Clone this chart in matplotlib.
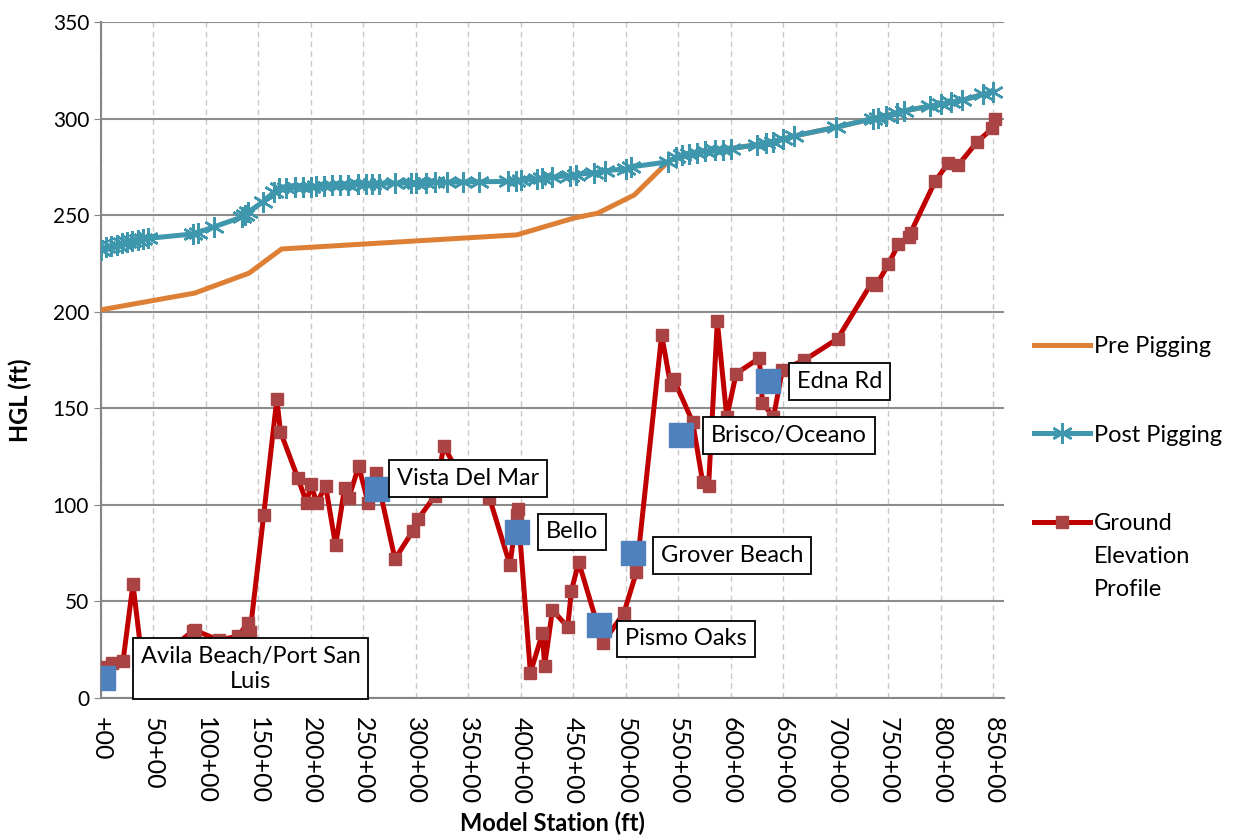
import numpy as np
import matplotlib
matplotlib.use("Agg")
import matplotlib.pyplot as plt

plt.rcParams["font.family"] = ["Lato", "DejaVu Sans"]

# ── Data ──
post_x = [0, 5, 10, 15, 20, 25, 30, 35, 40, 45, 88, 92, 108, 134, 137, 140, 154, 165,
          170, 176, 185, 192, 200, 205, 212, 220, 228, 235, 245, 252, 258, 265, 280,
          295, 300, 310, 318, 330, 345, 360, 388, 395, 400, 415, 420, 430, 447, 452,
          470, 480, 500, 505, 540, 548, 553, 560, 568, 575, 585, 592, 600, 625, 633,
          640, 650, 660, 700, 735, 740, 748, 758, 765, 790, 800, 810, 820, 840, 850]
post_y = [232, 233.5, 234, 234.5, 235.5, 236, 236.5, 237, 237.5, 238, 240.3, 241, 244,
          249, 250, 251.5, 256.8, 262, 264, 264.3, 264.5, 264.6, 264.8, 265, 265.2,
          265.4, 265.6, 265.8, 266, 266.2, 266.3, 266.4, 266.6, 266.7, 266.8, 266.9,
          267, 267.1, 267.2, 267.3, 267.5, 267.7, 268, 268.8, 269.2, 269.8, 270.5, 271,
          272, 273, 274, 275, 277.6, 280, 281, 281.5, 282.3, 283, 283.5, 284, 284.5,
          286.5, 287.5, 288, 289.5, 291, 295.5, 300, 300.5, 301.5, 303, 304, 306.5,
          307.5, 308.5, 309.5, 312.5, 314]

# pre pigging runs below post pigging, then joins it from ~540 on
pre_x = [0, 89.5, 141, 172, 396, 451, 473, 508, 540] + post_x[53:]
pre_y = [201, 209.7, 220, 232.5, 239.8, 248.6, 251, 260.5, 277.6] + post_y[53:]

ground_x = [0, 10.5, 21, 30.5, 38, 55, 72, 87.5, 90, 112, 130.5, 140, 142, 155, 167.5,
            171, 187.5, 196, 200, 205.5, 214, 223.5, 232, 236, 245.5, 254.5, 262, 280,
            297, 302, 318, 326.5, 345, 360, 370, 389.5, 396, 397, 409, 420.5, 422.5,
            430, 444.5, 448, 455, 478, 498, 510, 534, 542.5, 545.5, 563.5, 573, 578.7,
            587, 596, 605, 627, 630, 640.5, 649, 670, 701.5, 734, 738.5, 750, 759.5,
            770, 771, 794.5, 807, 816.5, 834.5, 849, 851]
ground_y = [16, 18, 19, 59, 25, 20, 28, 34.7, 35, 30, 32, 38.8, 34, 94.8, 154.8, 137.8,
            113.9, 101, 110.8, 101, 109.8, 79, 108.7, 103.6, 120, 101, 116.5, 72, 86.5,
            92.7, 104.6, 130.5, 112, 110, 103.6, 69, 94.8, 97.9, 13, 33.7, 16.6, 45.6,
            36.8, 55.4, 70.4, 28.5, 44, 65.3, 188, 162, 165, 143, 112, 110, 195, 145.5,
            168, 176, 152.8, 145.5, 170, 175, 186, 215, 213.9, 224.7, 235, 238.7, 240.8,
            267.7, 277, 276, 288, 295, 300]

loc_names = ["Avila Beach/Port San\nLuis", "Vista Del Mar", "Bello", "Pismo Oaks",
             "Grover Beach", "Brisco/Oceano", "Edna Rd"]
loc_x = [2, 263, 396, 474, 507, 552, 635]
loc_y = [10.4, 108, 86, 37.8, 75, 136, 164]
loc_offsets = [(27, 6.5), (14, 8), (21, 0), (19, -10), (20, -1.5), (22, 0), (21, 0)]

ticks = np.arange(0, 851, 50)
tick_labels = ["+00"] + [f"{t}+00" for t in ticks[1:]]

# ── Plot ──
fig = plt.figure(figsize=(12.34, 8.38), dpi=100)
ax = fig.add_axes([0.0818, 0.167, 0.7318, 0.8067])

ax.plot(pre_x, pre_y, color="#DD8035", lw=3.6, label="Pre Pigging", zorder=3)
ax.plot(post_x, post_y, color="#3F97AE", lw=3.6, marker=(6, 2, 0), ms=15, mew=1.8,
        label="Post Pigging", zorder=4)
ax.plot(ground_x, ground_y, color="#C00000", lw=3.6, marker="s", ms=8,
        mfc="#AA4444", mec="#AA4444", label="Ground", zorder=4)
ax.scatter(loc_x, loc_y, marker="s", s=310, color="#4F81BD", zorder=5)

for name, x, y, off in zip(loc_names, loc_x, loc_y, loc_offsets):
    ax.annotate(name, (x, y), xytext=off, textcoords="offset points", ha="left",
                va="center", fontsize=17, multialignment="center", zorder=6,
                bbox=dict(boxstyle="square,pad=0.33", fc="white", ec="black", lw=1.3))

ax.set_xlim(0, 860)
ax.set_ylim(0, 350)
ax.set_yticks(np.arange(0, 351, 50))
ax.set_xticks(ticks)
ax.set_xticklabels(tick_labels, rotation=-90, fontsize=18)
ax.tick_params(axis="y", labelsize=15, length=5, color="#868686")
ax.tick_params(axis="x", length=0, pad=14)

ax.grid(axis="y", color="#8C8C8C", lw=1.5)
ax.grid(axis="x", color="#C8C8C8", lw=1, ls=(0, (4, 3)))
ax.set_axisbelow(True)
for s in ["top", "right"]:
    ax.spines[s].set_visible(False)
for s in ["left", "bottom"]:
    ax.spines[s].set_color("#868686")
    ax.spines[s].set_linewidth(1.5)

ax.set_xlabel("Model Station (ft)", fontsize=17, fontweight="bold", labelpad=5)
ax.set_ylabel("HGL (ft)", fontsize=17, fontweight="bold")
ax.yaxis.set_label_coords(-0.076, 0.44)

leg = ax.legend(loc="center left", bbox_to_anchor=(1.033, 0.389), frameon=False,
                fontsize=17, handlelength=2.4, handletextpad=0.15, labelspacing=2.85,
                borderpad=0, borderaxespad=0)

# rest of the wrapped legend label under "Ground"
fig.canvas.draw()
bb = leg.get_texts()[2].get_window_extent()
inv = fig.transFigure.inverted()
cy = (bb.y0 + bb.y1) / 2
for i, word in enumerate(["Elevation", "Profile"]):
    x0, y0 = inv.transform((bb.x0, cy - 33 * (i + 1)))
    fig.text(x0, y0, word, fontsize=17, ha="left", va="center")

fig.savefig("out.png", dpi=100)
